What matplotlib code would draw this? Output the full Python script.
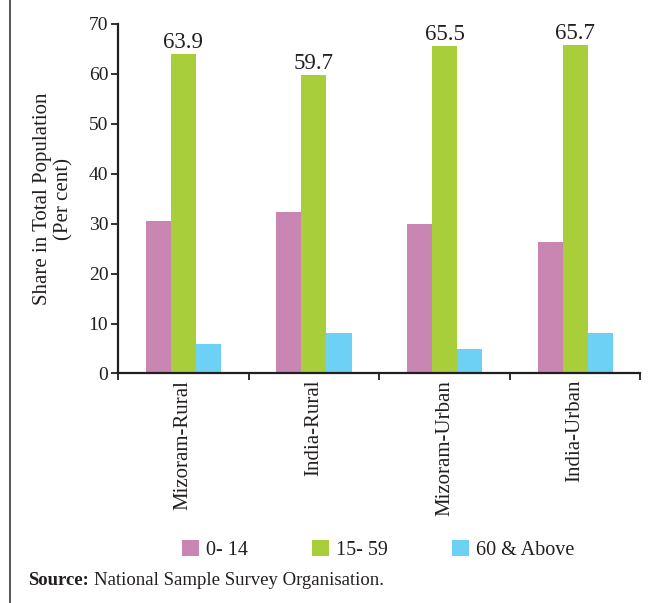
import numpy as np
import matplotlib.pyplot as plt
from matplotlib.lines import Line2D

plt.rcParams['font.family'] = ['Liberation Serif', 'DejaVu Serif']

# data
categories = ['Mizoram-Rural', 'India-Rural', 'Mizoram-Urban', 'India-Urban']
age_groups = ['0- 14', '15- 59', '60 & Above']
share_0_14 = [30.6, 32.4, 30.0, 26.4]
share_15_59 = [63.9, 59.7, 65.5, 65.7]
share_60_up = [5.8, 8.2, 4.8, 8.2]

colors = ['#C986B2', '#A8CF3A', '#6DD0F5']
txt = '#231F20'

fig = plt.figure(figsize=(6.58, 6.03), dpi=100)
ax = fig.add_axes([0.1793, 0.3806, 0.794, 0.5804])

x = np.arange(len(categories))
w = 0.192
series = [share_0_14, share_15_59, share_60_up]
for i, (vals, c, lab) in enumerate(zip(series, colors, age_groups)):
    ax.bar(x + (i - 1) * w, vals, width=w, color=c, label=lab, linewidth=0)

# value labels on the middle age group
for xi, v in zip(x, share_15_59):
    ax.annotate(f'{v}', (xi, v), xytext=(0, 1), textcoords='offset points',
                ha='center', va='bottom', fontsize=16.5, color=txt)

ax.set_xlim(-0.5, len(categories) - 0.5)
ax.set_ylim(0, 70)
ax.set_yticks(np.arange(0, 71, 10))

# ticks on category boundaries, labels at the centres
ax.set_xticks(np.arange(-0.5, len(categories), 1.0))
ax.set_xticklabels([])
ax.set_xticks(x, minor=True)
ax.set_xticklabels(categories, minor=True, rotation=90, fontsize=15, color=txt)
ax.tick_params(axis='x', which='minor', length=0, pad=4.5)
ax.tick_params(axis='x', which='major', length=5, width=1.3, direction='out', color=txt)
ax.tick_params(axis='y', length=5, width=1.3, direction='out', labelsize=14,
               color=txt, labelcolor=txt, pad=2)

for s in ['top', 'right']:
    ax.spines[s].set_visible(False)
for s in ['left', 'bottom']:
    ax.spines[s].set_linewidth(1.6)
    ax.spines[s].set_color(txt)

ax.set_ylabel('Share in Total Population\n(Per cent)', fontsize=15,
              color=txt, linespacing=1.15, labelpad=11)

fig.legend(loc='center', bbox_to_anchor=(0.575, 0.0887), ncol=3, frameon=False,
           fontsize=14.5, handlelength=0.83, handleheight=0.85,
           handletextpad=0.35, columnspacing=3.2, labelcolor=txt)

# source line: bold lead-in, regular text right after it
src = fig.text(0.0425, 0.0365, 'Source:', fontsize=13.5, fontweight='bold',
               color=txt, va='center')
fig.add_artist(plt.Annotation('National Sample Survey Organisation.',
                              xy=(1, 0.5), xycoords=src, xytext=(3.5, 0),
                              textcoords='offset points', fontsize=13.5,
                              color=txt, va='center'))

# page frame line on the left
fig.add_artist(Line2D([0.015, 0.015], [0, 1], transform=fig.transFigure,
                      color='#555555', linewidth=1.4))

fig.savefig('out.png', dpi=100)
